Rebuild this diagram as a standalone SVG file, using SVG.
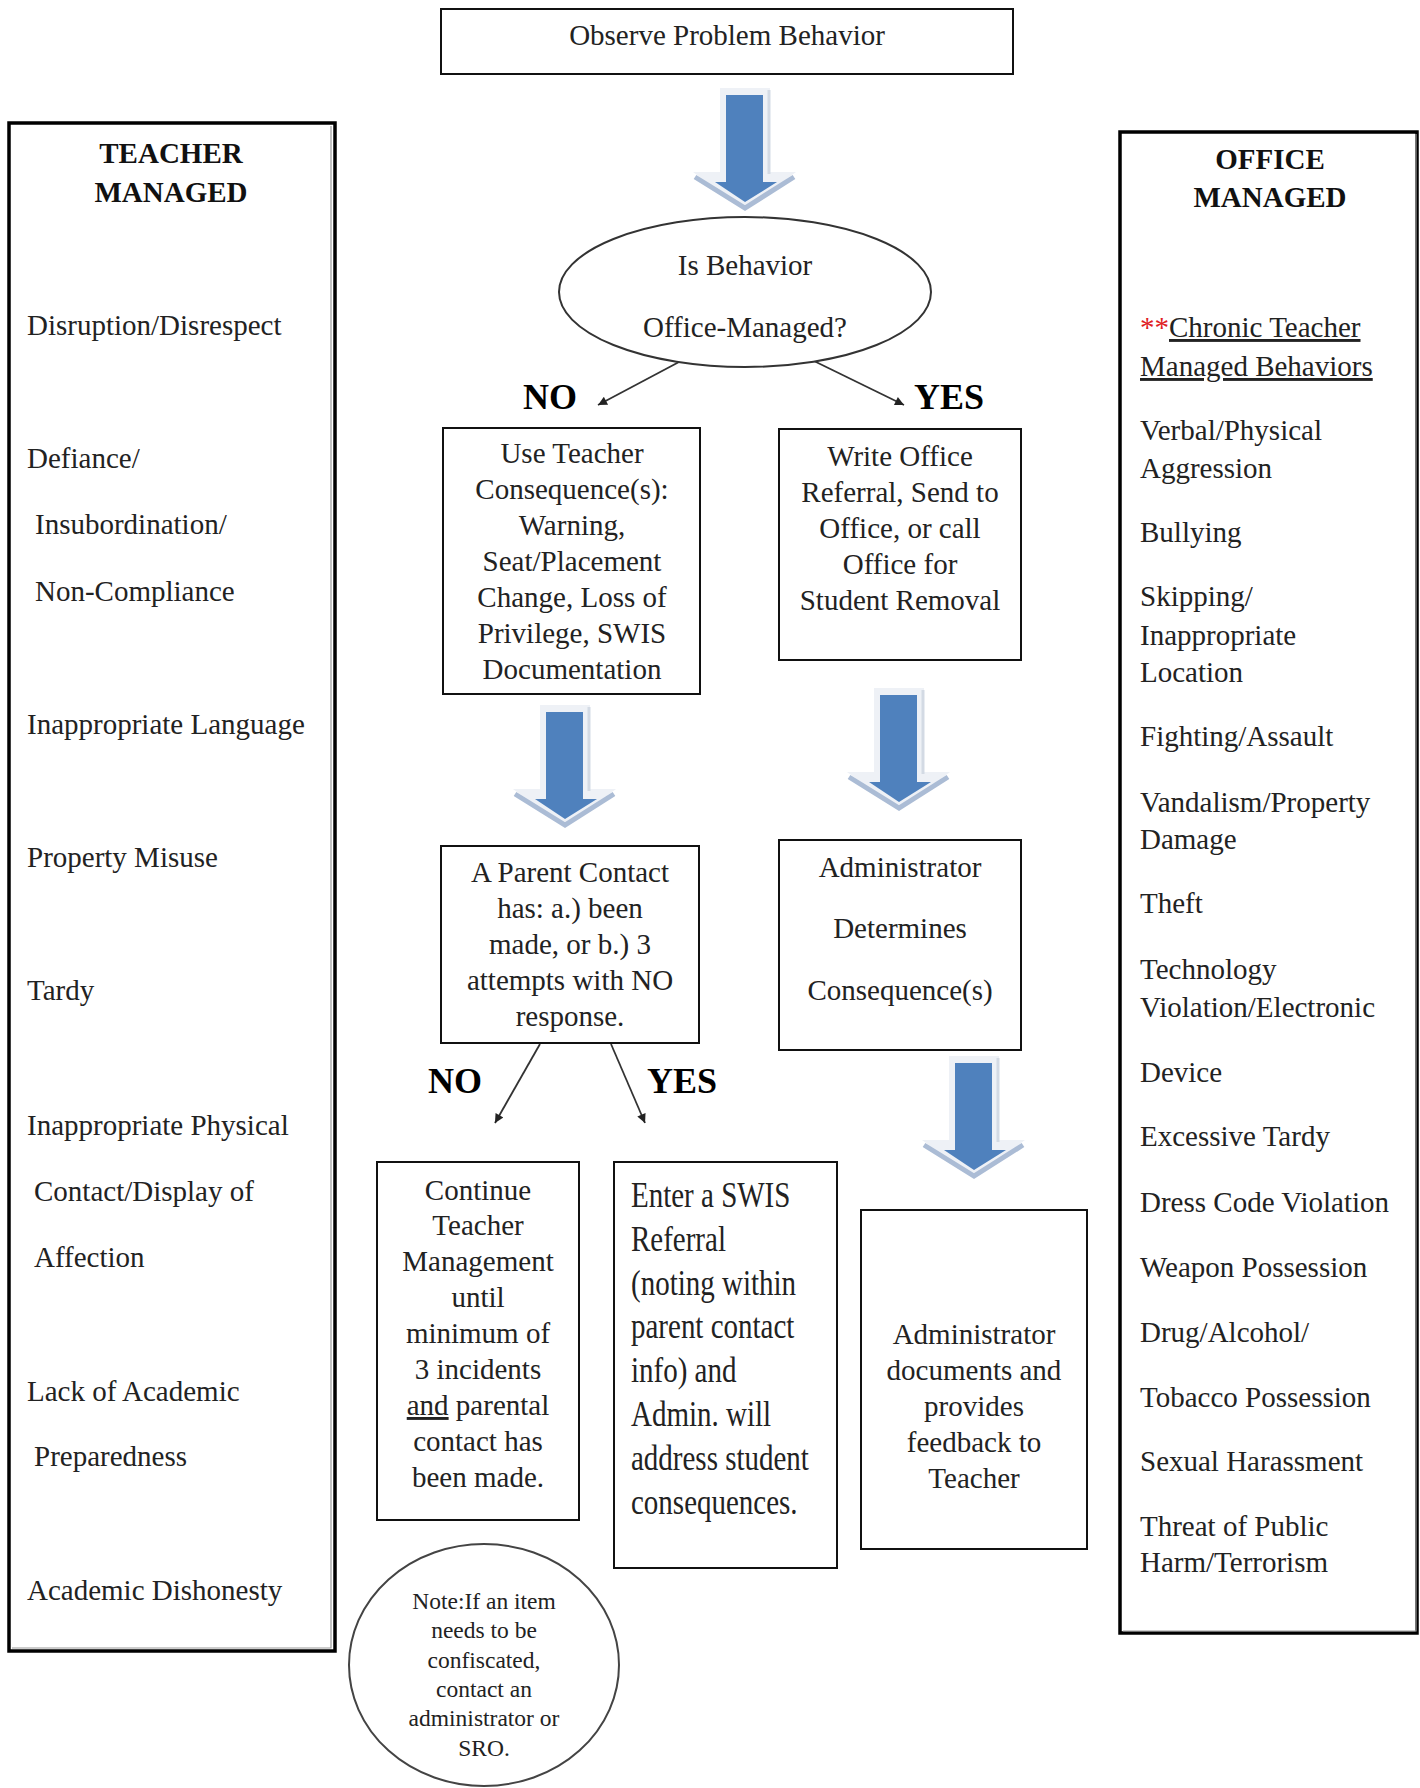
<svg xmlns="http://www.w3.org/2000/svg" width="1420" height="1788" viewBox="0 0 1420 1788">
<style>
  text { font-family: "Liberation Serif", "Times New Roman", serif; fill: #222; font-size: 29px; }
  .c { text-anchor: middle; }
  .b { font-weight: bold; fill: #111; }
  .box { fill: #fff; stroke: #111; stroke-width: 2; }
  .panel { fill: #fff; stroke: #000; stroke-width: 3.5; }
  .inner { fill: none; stroke: #9a9a9a; stroke-width: 1.2; }
  .lbl { font-size: 36px; font-weight: bold; fill: #000; }
  .note { font-size: 23.5px; text-anchor: middle; }
  .conn { stroke: #333; stroke-width: 1.8; fill: none; marker-end: url(#ah); }
  .u { text-decoration: underline; }
</style>
<defs>
  <marker id="ah" viewBox="0 0 10 10" refX="10" refY="5" markerWidth="13" markerHeight="9" markerUnits="userSpaceOnUse" orient="auto">
    <path d="M0,0 L10,5 L0,10 Z" fill="#222"/>
  </marker>
  <g id="bigArrow">
    <path d="M-25,0 H25 V84 H51 L0,122 L-52,84 H-25 Z" fill="#eef1f6"/>
    <path d="M-50,89 L0,120 L49,89" fill="none" stroke="#abbcd5" stroke-width="5"/>
    <path d="M24,2 V86" stroke="#d3dae4" stroke-width="3"/>
    <path d="M-19,7 H18 V94 H32 L0,114 L-30,94 H-19 Z" fill="#4f81bd"/>
  </g>
</defs>
<rect width="1420" height="1788" fill="#fff"/>

<g id="connectors">
  <use href="#bigArrow" transform="translate(745,88)"/>
  <use href="#bigArrow" transform="translate(565,705)"/>
  <use href="#bigArrow" transform="translate(899,688)"/>
  <use href="#bigArrow" transform="translate(974,1056)"/>
  <line class="conn" x1="679" y1="362" x2="598" y2="405"/>
  <line class="conn" x1="814" y1="361" x2="904" y2="405"/>
  <line class="conn" x1="540" y1="1044" x2="495" y2="1123"/>
  <line class="conn" x1="611" y1="1044" x2="645" y2="1123"/>
  <text class="lbl" x="523" y="409">NO</text>
  <text class="lbl" x="914" y="409">YES</text>
  <text class="lbl" x="428" y="1093">NO</text>
  <text class="lbl" x="647" y="1093">YES</text>
</g>

<g id="observe">
  <rect class="box" x="441" y="9" width="572" height="65"/>
  <text class="c" x="727" y="45">Observe Problem Behavior</text>
</g>

<g id="teacher-managed">
  <rect class="panel" x="9" y="123" width="326" height="1528"/>
  <path class="inner" d="M331,126 V1648 H12"/>
  <text class="c b" x="171" y="163">TEACHER</text>
  <text class="c b" x="171" y="202">MANAGED</text>
  <text x="27" y="335">Disruption/Disrespect</text>
  <text x="27" y="468">Defiance/</text>
  <text x="35" y="534">Insubordination/</text>
  <text x="35" y="601">Non-Compliance</text>
  <text x="27" y="734">Inappropriate Language</text>
  <text x="27" y="867">Property Misuse</text>
  <text x="27" y="1000">Tardy</text>
  <text x="27" y="1135">Inappropriate Physical</text>
  <text x="34" y="1201">Contact/Display of</text>
  <text x="34" y="1267">Affection</text>
  <text x="27" y="1401">Lack of Academic</text>
  <text x="34" y="1466">Preparedness</text>
  <text x="27" y="1600">Academic Dishonesty</text>
</g>

<g id="office-managed">
  <rect class="panel" x="1120" y="132" width="297" height="1501"/>
  <path class="inner" d="M1416,134 V1631 H1123"/>
  <text class="c b" x="1270" y="169">OFFICE</text>
  <text class="c b" x="1270" y="207">MANAGED</text>
  <text x="1140" y="337"><tspan fill="#e0201f">**</tspan><tspan class="u">Chronic Teacher</tspan></text>
  <text x="1140" y="376" class="u">Managed Behaviors</text>
  <text x="1140" y="440">Verbal/Physical</text>
  <text x="1140" y="478">Aggression</text>
  <text x="1140" y="542">Bullying</text>
  <text x="1140" y="606">Skipping/</text>
  <text x="1140" y="645">Inappropriate</text>
  <text x="1140" y="682">Location</text>
  <text x="1140" y="746">Fighting/Assault</text>
  <text x="1140" y="812">Vandalism/Property</text>
  <text x="1140" y="849">Damage</text>
  <text x="1140" y="913">Theft</text>
  <text x="1140" y="979">Technology</text>
  <text x="1140" y="1017">Violation/Electronic</text>
  <text x="1140" y="1082">Device</text>
  <text x="1140" y="1146">Excessive Tardy</text>
  <text x="1140" y="1212">Dress Code Violation</text>
  <text x="1140" y="1277">Weapon Possession</text>
  <text x="1140" y="1342">Drug/Alcohol/</text>
  <text x="1140" y="1407">Tobacco Possession</text>
  <text x="1140" y="1471">Sexual Harassment</text>
  <text x="1140" y="1536">Threat of Public</text>
  <text x="1140" y="1572">Harm/Terrorism</text>
</g>

<g id="decision">
  <ellipse cx="745" cy="292" rx="186" ry="75" fill="#fff" stroke="#333" stroke-width="2"/>
  <text class="c" x="745" y="275">Is Behavior</text>
  <text class="c" x="745" y="337">Office-Managed?</text>
</g>

<g id="teacher-consequence">
  <rect class="box" x="443" y="428" width="257" height="266"/>
  <text class="c" x="572" y="463">Use Teacher</text>
  <text class="c" x="572" y="499">Consequence(s):</text>
  <text class="c" x="572" y="535">Warning,</text>
  <text class="c" x="572" y="571">Seat/Placement</text>
  <text class="c" x="572" y="607">Change, Loss of</text>
  <text class="c" x="572" y="643">Privilege, SWIS</text>
  <text class="c" x="572" y="679">Documentation</text>
</g>

<g id="office-referral">
  <rect class="box" x="779" y="429" width="242" height="231"/>
  <text class="c" x="900" y="466">Write Office</text>
  <text class="c" x="900" y="502">Referral, Send to</text>
  <text class="c" x="900" y="538">Office, or call</text>
  <text class="c" x="900" y="574">Office for</text>
  <text class="c" x="900" y="610">Student Removal</text>
</g>

<g id="parent-contact">
  <rect class="box" x="441" y="846" width="258" height="197"/>
  <text class="c" x="570" y="882">A Parent Contact</text>
  <text class="c" x="570" y="918">has: a.) been</text>
  <text class="c" x="570" y="954">made, or b.) 3</text>
  <text class="c" x="570" y="990">attempts with NO</text>
  <text class="c" x="570" y="1026">response.</text>
</g>

<g id="admin-determines">
  <rect class="box" x="779" y="840" width="242" height="210"/>
  <text class="c" x="900" y="877">Administrator</text>
  <text class="c" x="900" y="938">Determines</text>
  <text class="c" x="900" y="1000">Consequence(s)</text>
</g>

<g id="continue-teacher">
  <rect class="box" x="377" y="1162" width="202" height="358"/>
  <text class="c" x="478" y="1200">Continue</text>
  <text class="c" x="478" y="1235">Teacher</text>
  <text class="c" x="478" y="1271">Management</text>
  <text class="c" x="478" y="1307">until</text>
  <text class="c" x="478" y="1343">minimum of</text>
  <text class="c" x="478" y="1379">3 incidents</text>
  <text class="c" x="478" y="1415"><tspan class="u">and</tspan> parental</text>
  <text class="c" x="478" y="1451">contact has</text>
  <text class="c" x="478" y="1487">been made.</text>
</g>

<g id="swis-referral">
  <rect class="box" x="614" y="1162" width="223" height="406"/>
  <g transform="translate(631,0) scale(1,1.2)">
    <text x="0" y="1005.8">Enter a SWIS</text>
    <text x="0" y="1042.3">Referral</text>
    <text x="0" y="1078.8">(noting within</text>
    <text x="0" y="1115.3">parent contact</text>
    <text x="0" y="1151.8">info) and</text>
    <text x="0" y="1188.3">Admin. will</text>
    <text x="0" y="1224.8">address student</text>
    <text x="0" y="1261.3">consequences.</text>
  </g>
</g>

<g id="admin-documents">
  <rect class="box" x="861" y="1210" width="226" height="339"/>
  <text class="c" x="974" y="1344">Administrator</text>
  <text class="c" x="974" y="1380">documents and</text>
  <text class="c" x="974" y="1416">provides</text>
  <text class="c" x="974" y="1452">feedback to</text>
  <text class="c" x="974" y="1488">Teacher</text>
</g>

<g id="note">
  <ellipse cx="484" cy="1665" rx="135" ry="121" fill="#fff" stroke="#444" stroke-width="2"/>
  <text class="note" x="484" y="1609">Note:If an item</text>
  <text class="note" x="484" y="1638">needs to be</text>
  <text class="note" x="484" y="1668">confiscated,</text>
  <text class="note" x="484" y="1697">contact an</text>
  <text class="note" x="484" y="1726">administrator or</text>
  <text class="note" x="484" y="1756">SRO.</text>
</g>
</svg>
